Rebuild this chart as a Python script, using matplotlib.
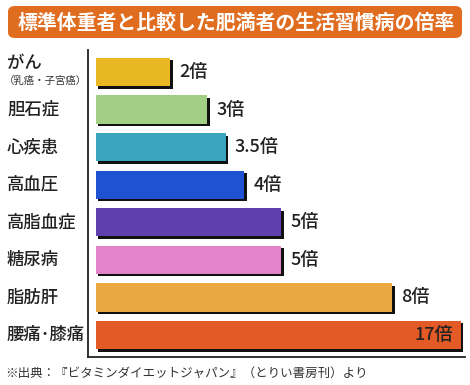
import numpy as np
import matplotlib
matplotlib.use("Agg")
import matplotlib.pyplot as plt
import matplotlib.patheffects as pe
from matplotlib.patches import FancyBboxPatch

plt.rcParams['font.family'] = ['Noto Sans CJK JP', 'DejaVu Sans']

diseases = ["がん", "胆石症", "心疾患", "高血圧", "高脂血症", "糖尿病", "脂肪肝", "腰痛・膝痛"]
ratios = [2, 3, 3.5, 4, 5, 5, 8, 17]
ratio_labels = ["2倍", "3倍", "3.5倍", "4倍", "5倍", "5倍", "8倍", "17倍"]
colors = ["#E8B822", "#A2CF84", "#3AA5BF", "#1F52D2", "#5F3FAE",
          "#E383C9", "#E9A842", "#E35A27"]
sub_label = "（乳癌・子宮癌）"
title = "標準体重者と比較した肥満者の生活習慣病の倍率"
source = "※出典：『ビタミンダイエットジャパン』（とりい書房刊）より"

W, H = 470, 385
fig = plt.figure(figsize=(W / 100, H / 100), dpi=100)

# title banner
banner = FancyBboxPatch((8 / W, 1 - 38 / H), 454 / W, 32 / H,
                        boxstyle="round,pad=0,rounding_size=0.015",
                        transform=fig.transFigure, facecolor="#E06C1F",
                        edgecolor="none")
fig.patches.append(banner)
fig.text(236 / W, 1 - 22 / H, title, color="white", fontsize=14.3,
         fontweight="bold", ha="center", va="center")

ax = fig.add_axes([88 / W, 28 / H, 377 / W, 307 / H])
x_cap = 9.85
y = np.arange(len(ratios))
shown = np.minimum(ratios, x_cap)
shadow = [pe.SimplePatchShadow(offset=(1.8, -1.8), shadow_rgbFace="#111111", alpha=1.0),
          pe.Normal()]
bars = ax.barh(y, shown, height=0.75, color=colors, edgecolor="none")
for b in bars:
    b.set_path_effects(shadow)

for i, (v, s, lab) in enumerate(zip(ratios, shown, ratio_labels)):
    if v > x_cap:
        ax.text(s - 0.2, i, lab, ha="right", va="center", fontsize=13,
                fontweight="medium", color="#222222")
    else:
        ax.text(s + 0.25, i, lab, ha="left", va="center", fontsize=13,
                fontweight="medium", color="#222222")

ax.set_xlim(-0.216, 9.97)
ax.set_ylim(len(ratios) - 0.415, -0.585)
ax.set_xticks([])
ax.set_yticks([])
for side in ["top", "right"]:
    ax.spines[side].set_visible(False)
for side in ["left", "bottom"]:
    ax.spines[side].set_linewidth(1.3)
    ax.spines[side].set_color("#222222")

# category labels on the left (narrow middle dot, as printed)
lab_kw = dict(ha="left", va="center", fontsize=12.5, fontweight="medium", color="#222222")
for i, name in enumerate(diseases):
    yp = 1 - (72 + 37.6 * i) / H
    if i == 0:
        fig.text(7 / W, 1 - 63 / H, name, **lab_kw)
        fig.text(4 / W, 1 - 81 / H, sub_label, ha="left", va="center", fontsize=7.5,
                 color="#333333")
    else:
        fig.text(7 / W, yp, name.replace("・", "･"), **lab_kw)

fig.text(5 / W, 1 - 373 / H, source, ha="left", va="center", fontsize=9,
         color="#333333")

fig.savefig("out.png", dpi=100, facecolor="white")
